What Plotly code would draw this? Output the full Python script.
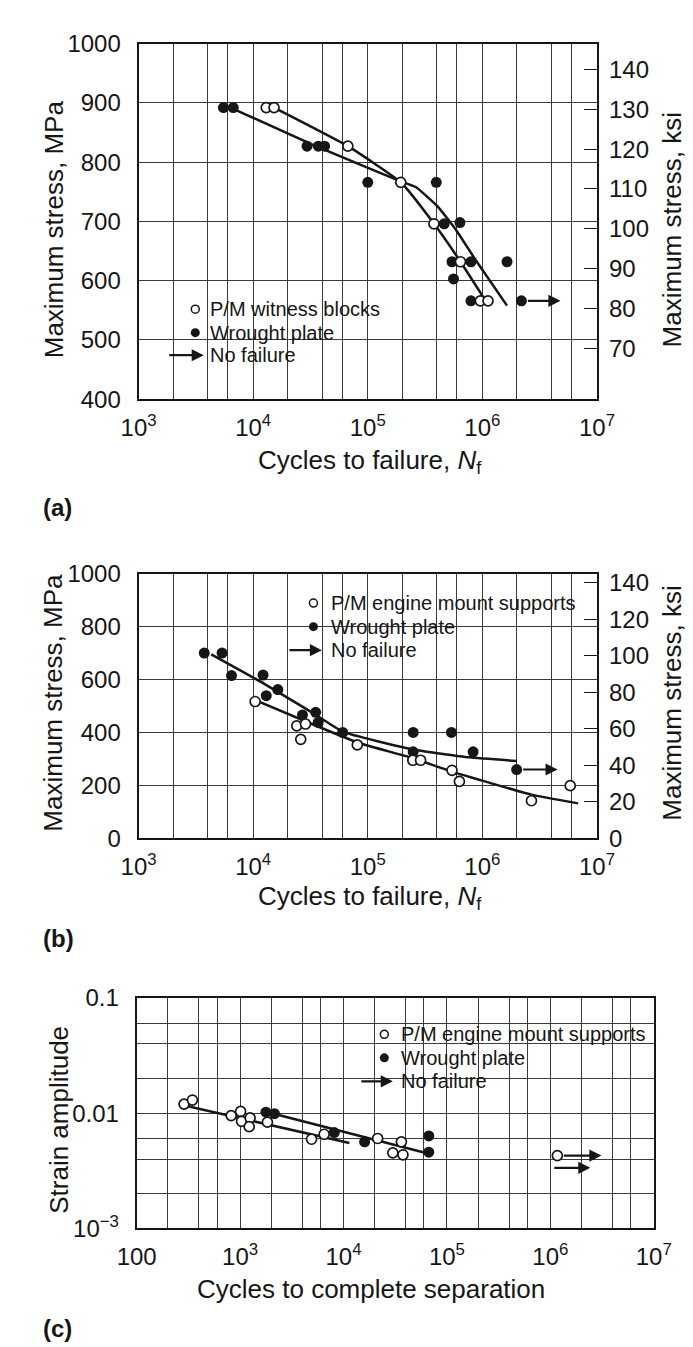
import numpy as np
import plotly.graph_objects as go

# ---------- data ----------
# (a) stress-life, P/M witness blocks vs wrought plate
A_PM_N = [1.30e4, 1.52e4, 6.7e4, 1.94e5, 3.78e5, 6.44e5, 9.6e5, 1.12e6]
A_PM_S = [892, 892, 827, 766, 696, 632, 566, 566]
A_WR_N = [5.5e3, 6.7e3, 2.95e4, 3.7e4, 4.2e4, 1.0e5, 3.96e5, 4.64e5, 6.37e5,
          5.43e5, 7.95e5, 5.6e5, 1.64e6, 7.95e5]
A_WR_S = [892, 892, 827, 827, 827, 766, 766, 696, 698, 632, 632, 603, 632, 566]
A_RUN_N = [2.19e6]
A_RUN_S = [566]
A_RUN_END = [4.8e6]
A_PM_FIT_N = [1.52e4, 6.7e4, 1.94e5, 3.72e5, 6.44e5, 1.02e6]
A_PM_FIT_S = [892, 827, 766, 698, 632, 572]
A_WR_FIT_N = [6.7e3, 3.25e4, 1.91e5, 2.62e5, 4.08e5, 5.97e5, 8.73e5, 1.64e6]
A_WR_FIT_S = [890, 830, 768, 758, 725, 684, 635, 558]

# (b) stress-life, P/M engine mount supports vs wrought plate
B_PM_N = [1.04e4, 2.4e4, 2.6e4, 2.86e4, 8.1e4, 2.47e5, 2.89e5, 5.43e5, 6.3e5,
          2.68e6, 5.84e6]
B_PM_S = [517, 425, 374, 432, 353, 295, 295, 257, 215, 142, 199]
B_WR_N = [3.74e3, 5.35e3, 6.47e3, 1.22e4, 1.3e4, 1.64e4, 2.69e4, 3.51e4,
          3.69e4, 6.04e4, 2.49e5, 2.49e5, 5.37e5, 8.3e5]
B_WR_S = [700, 700, 615, 617, 539, 562, 466, 476, 438, 400, 400, 327, 400, 327]
B_RUN_N = [1.99e6]
B_RUN_S = [260]
B_RUN_END = [4.53e6]
B_PM_FIT_N = [1.07e4, 3.25e4, 8.4e4, 2.47e5, 5.6e5, 2.68e6, 6.84e6]
B_PM_FIT_S = [520, 432, 360, 303, 250, 165, 132]
B_WR_FIT_N = [4.3e3, 1.26e4, 3.25e4, 6.1e4, 2.47e5, 7.7e5, 2.0e6]
B_WR_FIT_S = [695, 583, 476, 402, 336, 306, 292]

# (c) strain-life
C_PM_N = [287, 346, 820, 1012, 1033, 1250, 1225, 1838, 4910, 6500, 2.14e4,
          3.63e4, 3.0e4, 3.76e4]
C_PM_E = [0.0120, 0.0130, 0.00953, 0.01035, 0.0085, 0.0091, 0.00764, 0.00836,
          0.00594, 0.00656, 0.00603, 0.00564, 0.00452, 0.00435]
C_WR_N = [1778, 2150, 8130, 1.6e4, 6.68e4, 6.68e4]
C_WR_E = [0.0102, 0.0099, 0.00678, 0.00564, 0.00635, 0.00459]
C_PM_RUN_N = [1.17e6]
C_PM_RUN_E = [0.00428]
C_PM_RUN_END = [3.12e6]
C_WR_RUN_N = [9.46e5]
C_WR_RUN_E = [0.00335]
C_WR_RUN_END = [2.44e6]
C_PM_FIT_N = [297, 1.14e4]
C_PM_FIT_E = [0.0116, 0.0055]
C_WR_FIT_N = [1780, 6.7e4]
C_WR_FIT_E = [0.0103, 0.00444]

# ticks
DECADES_AB = [1e3, 1e4, 1e5, 1e6, 1e7]
DECADE_TEXT_AB = ["10<sup>3</sup>", "10<sup>4</sup>", "10<sup>5</sup>",
                  "10<sup>6</sup>", "10<sup>7</sup>"]
DECADES_C = [1e2, 1e3, 1e4, 1e5, 1e6, 1e7]
DECADE_TEXT_C = ["100", "10<sup>3</sup>", "10<sup>4</sup>", "10<sup>5</sup>",
                 "10<sup>6</sup>", "10<sup>7</sup>"]
MPA_TICKS_A = [400, 500, 600, 700, 800, 900, 1000]
KSI_TICKS_A = [70, 80, 90, 100, 110, 120, 130, 140]
MPA_TICKS_B = [0, 200, 400, 600, 800, 1000]
KSI_TICKS_B = [0, 20, 40, 60, 80, 100, 120, 140]
STRAIN_TICKS = [1e-3, 1e-2, 1e-1]
STRAIN_TEXT = ["10<sup>\u22123</sup>", "0.01", "0.1"]
MPA_PER_KSI = 6.895

# ---------- layout helpers ----------
W, H = 693, 1347
INK = "#161616"
FONT = "Liberation Sans, Arial, Helvetica, sans-serif"


def px(x):
    return x / W


def py(y):
    return 1 - y / H


def minor_vals(lo, hi):
    return [m * 10.0 ** e for e in range(lo, hi) for m in (2, 4, 6)]


fig = go.Figure()


def add_fit(n, s, xa, ya):
    fig.add_trace(go.Scatter(
        x=n, y=s, xaxis=xa, yaxis=ya, mode="lines",
        line=dict(color=INK, width=2.5, shape="spline", smoothing=0.4),
        hoverinfo="skip", showlegend=False))


def add_points(n, s, xa, ya, filled):
    fig.add_trace(go.Scatter(
        x=n, y=s, xaxis=xa, yaxis=ya, mode="markers",
        marker=dict(symbol="circle", size=11 if filled else 10,
                    color=INK if filled else "white",
                    line=dict(color=INK, width=0 if filled else 1.7)),
        showlegend=False))


def add_ksi_twin(n, s, xa, ya):
    # same wrought points expressed in ksi, invisible, so the ksi axis is drawn
    fig.add_trace(go.Scatter(
        x=n, y=[v / MPA_PER_KSI for v in s], xaxis=xa, yaxis=ya,
        mode="markers", marker=dict(opacity=0, size=1),
        hoverinfo="skip", showlegend=False))


def add_runout(n0, n1, s, xa, ya, logy=False):
    for a, b, v in zip(n0, n1, s):
        yy = np.log10(v) if logy else v
        fig.add_annotation(
            x=np.log10(b), y=yy, ax=np.log10(a), ay=yy,
            xref=xa, yref=ya, axref=xa, ayref=ya, text="",
            showarrow=True, arrowhead=2, arrowsize=1.1, arrowwidth=2.2,
            arrowcolor=INK, startstandoff=5)


# panel (a)
add_fit(A_PM_FIT_N, A_PM_FIT_S, "x", "y")
add_fit(A_WR_FIT_N, A_WR_FIT_S, "x", "y")
add_points(A_WR_N + A_RUN_N, A_WR_S + A_RUN_S, "x", "y", True)
add_points(A_PM_N, A_PM_S, "x", "y", False)
add_ksi_twin(A_WR_N, A_WR_S, "x", "y4")
add_runout(A_RUN_N, A_RUN_END, A_RUN_S, "x", "y")

# panel (b)
add_fit(B_PM_FIT_N, B_PM_FIT_S, "x2", "y2")
add_fit(B_WR_FIT_N, B_WR_FIT_S, "x2", "y2")
add_points(B_WR_N + B_RUN_N, B_WR_S + B_RUN_S, "x2", "y2", True)
add_points(B_PM_N, B_PM_S, "x2", "y2", False)
add_ksi_twin(B_WR_N, B_WR_S, "x2", "y5")
add_runout(B_RUN_N, B_RUN_END, B_RUN_S, "x2", "y2")

# panel (c)
add_fit(C_PM_FIT_N, C_PM_FIT_E, "x3", "y3")
add_fit(C_WR_FIT_N, C_WR_FIT_E, "x3", "y3")
add_points(C_WR_N, C_WR_E, "x3", "y3", True)
add_points(C_PM_N + C_PM_RUN_N, C_PM_E + C_PM_RUN_E, "x3", "y3", False)
add_runout(C_PM_RUN_N, C_PM_RUN_END, C_PM_RUN_E, "x3", "y3", logy=True)
add_runout(C_WR_RUN_N, C_WR_RUN_END, C_WR_RUN_E, "x3", "y3", logy=True)

# ---------- axes ----------
tickfont = dict(family=FONT, size=24, color=INK)
frame = dict(showline=True, linewidth=2, linecolor=INK, mirror=True,
             zeroline=False, gridcolor="#3a3a3a", gridwidth=1, showgrid=True,
             tickfont=tickfont, ticks="")


def xlog(dom, rng, vals, text, lo, hi, anchor):
    return dict(type="log", domain=dom, range=rng, tickmode="array",
                tickvals=vals, ticktext=text, anchor=anchor,
                ticklabelstandoff=6,
                minor=dict(tickmode="array", tickvals=minor_vals(lo, hi),
                           showgrid=True, gridcolor="#3a3a3a", gridwidth=1,
                           ticks=""),
                **frame)


fig.update_layout(
    width=W, height=H,
    margin=dict(l=0, r=0, t=0, b=0),
    paper_bgcolor="white", plot_bgcolor="white",
    font=dict(family=FONT, color=INK),
    showlegend=False,
    xaxis=xlog([px(117), px(602)], [3, 7], DECADES_AB, DECADE_TEXT_AB, 3, 7, "y"),
    xaxis2=xlog([px(117), px(602)], [3, 7], DECADES_AB, DECADE_TEXT_AB, 3, 7, "y2"),
    xaxis3=xlog([px(115), px(662)], [2, 7], DECADES_C, DECADE_TEXT_C, 2, 7, "y3"),
    yaxis=dict(domain=[py(385), py(22)], range=[400, 1000], anchor="x",
               tickmode="array", tickvals=MPA_TICKS_A, ticklabelstandoff=11,
               **frame),
    yaxis2=dict(domain=[py(833), py(563)], range=[0, 1000], anchor="x2",
                tickmode="array", tickvals=MPA_TICKS_B, ticklabelstandoff=11,
                **frame),
    yaxis3=dict(type="log", domain=[py(1231), py(996)], range=[-3, -1],
                anchor="x3", tickmode="array", tickvals=STRAIN_TICKS,
                ticktext=STRAIN_TEXT, ticklabelstandoff=11,
                minor=dict(tickmode="array", tickvals=minor_vals(-3, -1),
                           showgrid=True, gridcolor="#3a3a3a", gridwidth=1,
                           ticks=""),
                **frame),
    yaxis4=dict(overlaying="y", side="right", anchor="x", range=[57.2, 146.5],
                tickmode="array", tickvals=KSI_TICKS_A, ticks="inside",
                ticklen=13, tickwidth=1.2, tickcolor=INK, showgrid=False,
                zeroline=False, tickfont=tickfont, ticklabelstandoff=11),
    yaxis5=dict(overlaying="y2", side="right", anchor="x2",
                range=[0, 1000 / MPA_PER_KSI], tickmode="array",
                tickvals=KSI_TICKS_B, ticks="inside", ticklen=13,
                tickwidth=1.2, tickcolor=INK, showgrid=False, zeroline=False,
                tickfont=tickfont, ticklabelstandoff=11),
)

# ---------- legend boxes (white patches over the grid) ----------
for x0, x1, y0, y1 in [(141, 371, 275, 355), (267, 578, 577, 657),
                       (345, 655, 1017, 1096)]:
    fig.add_shape(type="rect", xref="paper", yref="paper",
                  x0=px(x0), x1=px(x1), y0=py(y1), y1=py(y0),
                  fillcolor="white", line=dict(width=0), layer="between")

legend_font = dict(family=FONT, size=20, color=INK)
LEGENDS = [
    (177, 150, 186, 190, [293, 317, 340], "P/M witness blocks"),
    (302, 277, 311, 318, [593, 617, 641], "P/M engine mount supports"),
    (377, 353, 386, 393, [1033, 1057, 1081], "P/M engine mount supports"),
]
for cx, ax0, ax1, tx, rows, pm_label in LEGENDS:
    for (yy, filled) in [(rows[0], False), (rows[1], True)]:
        r = 4.5 if filled else 4
        fig.add_shape(type="circle", xref="paper", yref="paper",
                      xsizemode="pixel", ysizemode="pixel",
                      xanchor=px(cx), yanchor=py(yy),
                      x0=-r, x1=r, y0=-r, y1=r,
                      fillcolor=INK if filled else "white",
                      line=dict(color=INK, width=0 if filled else 1.5))
    fig.add_annotation(x=px(ax1), y=py(rows[2]), xref="paper", yref="paper",
                       ax=ax0 - ax1, ay=0, text="", showarrow=True,
                       arrowhead=2, arrowsize=1.1, arrowwidth=2.2,
                       arrowcolor=INK)
    for yy, label in zip(rows, [pm_label, "Wrought plate", "No failure"]):
        fig.add_annotation(x=px(tx), y=py(yy), xref="paper", yref="paper",
                           text=label, showarrow=False, xanchor="left",
                           yanchor="middle", font=legend_font)

# ---------- axis titles and panel labels ----------
title_font = dict(family=FONT, size=26, color=INK)
TITLES = [
    ("Maximum stress, MPa", 27, 212, -90),
    ("Maximum stress, ksi", 681, 212, -90),
    ("Cycles to failure, <i>N</i><sub>f</sub>", 362, 448, 0),
    ("Maximum stress, MPa", 26, 695, -90),
    ("Maximum stress, ksi", 681, 695, -90),
    ("Cycles to failure, <i>N</i><sub>f</sub>", 362, 893, 0),
    ("Strain amplitude", 32, 1120, -90),
    ("Cycles to complete separation", 363, 1293, 0),
]
for text, x, y, ang in TITLES:
    fig.add_annotation(x=px(x), y=py(y), xref="paper", yref="paper",
                       text=text, showarrow=False, textangle=ang,
                       xanchor="center", yanchor="middle", font=title_font)

for text, y in [("(a)", 495), ("(b)", 935), ("(c)", 1333)]:
    fig.add_annotation(x=px(14), y=py(y), xref="paper", yref="paper",
                       text=f"<b>{text}</b>", showarrow=False,
                       xanchor="left", yanchor="middle",
                       font=dict(family=FONT, size=24, color=INK))

fig.write_html("out.html")
